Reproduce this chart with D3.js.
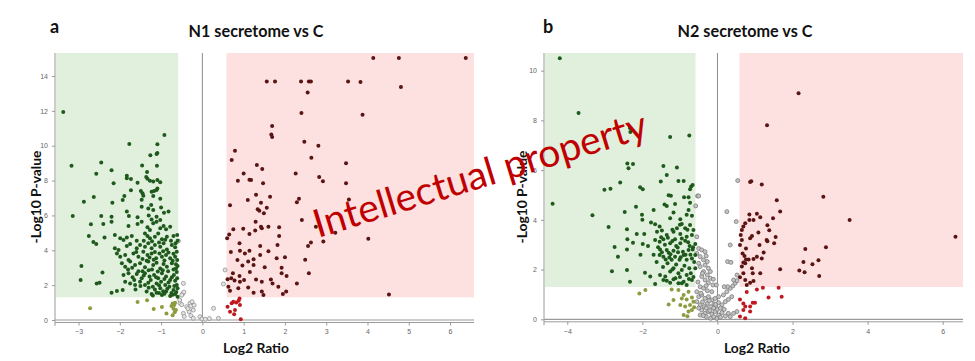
<!DOCTYPE html>
<html><head><meta charset="utf-8">
<script src="https://cdn.jsdelivr.net/npm/d3@7"></script>
<style>body{margin:0;background:#fff}svg{display:block}</style>
</head><body>
<svg id="c" width="975" height="361"></svg>
<script>
// ---------- DATA (Log2 ratio, -log10 p) ----------
const n1Green = [
[-3.37,11.93],[-0.92,10.61],[-1.77,10.10],[-1.09,10.08],[-1.26,9.45],[-1.09,9.58],[-1.11,9.52],[-3.17,8.85],[-2.45,9.03],[-1.46,8.87],[-1.10,8.85],[-2.57,8.39],[-2.20,8.59],[-1.34,8.49],[-1.83,8.28],[-1.83,8.13],[-1.73,8.09],[-1.36,8.20],[-1.33,8.11],[-1.27,7.99],[-1.19,7.94],[-1.09,8.03],[-1.02,7.90],[-1.57,7.88],[-2.15,7.84],[-1.49,7.40],[-1.45,7.27],[-1.73,7.44],[-1.23,7.36],[-1.17,7.40],[-1.11,7.46],[-1.09,7.55],[-1.43,7.13],[-1.89,7.11],[-1.93,6.88],[-1.47,6.90],[-1.19,7.11],[-1.02,6.96],[-2.63,7.06],[-2.87,6.79],[-2.18,6.73],[-1.47,6.50],[-1.24,6.60],[-1.31,6.40],[-1.19,6.31],[-1.00,6.46],[-0.93,6.16],[-0.82,6.22],[-1.83,6.23],[-1.78,5.97],[-1.57,5.89],[-1.30,6.00],[-1.23,5.77],[-1.11,5.93],[-1.02,5.74],[-3.14,5.97],[-2.45,5.97],[-2.20,5.92],
[-2.70,5.49],[-2.40,5.51],[-2.20,5.64],[-1.79,5.39],[-1.57,5.51],[-1.33,5.32],[-1.27,5.16],[-1.19,5.55],[-1.11,5.64],[-1.02,5.26],[-0.94,5.39],[-0.88,5.20],[-0.78,5.35],[-1.47,5.64],
[-2.75,4.82],[-2.64,4.47],[-2.57,4.36],[-2.37,4.74],[-2.12,4.88],[-1.99,4.69],[-1.91,4.59],[-1.83,4.74],[-1.71,4.82],[-1.59,4.55],[-1.39,4.97],[-1.33,4.82],[-1.27,4.69],[-1.15,4.78],[-1.07,4.97],[-0.98,4.63],[-0.86,4.78],[-0.70,4.82],[-0.61,4.88],[-0.60,4.55],
[-2.12,4.11],[-2.03,4.02],[-1.83,4.25],[-1.75,4.36],[-1.59,4.11],[-1.51,4.30],[-1.39,4.21],[-1.31,4.40],[-1.23,4.11],[-1.15,4.30],[-1.02,4.21],[-0.94,4.40],[-0.86,4.05],[-0.74,4.30],[-0.66,4.17],[-0.62,3.92],
[-2.07,3.82],[-1.99,3.63],[-1.87,3.73],[-1.79,3.44],[-1.67,3.82],[-1.55,3.63],[-1.43,3.92],[-1.33,3.73],[-1.23,3.82],[-1.12,3.54],[-1.04,3.82],[-0.98,3.63],[-0.88,3.73],[-0.78,3.54],[-0.66,3.63],[-0.61,3.44],
[-1.95,3.25],[-1.87,3.06],[-1.75,3.35],[-1.63,3.16],[-1.51,3.25],[-1.39,3.02],[-1.31,3.35],[-1.19,3.16],[-1.11,3.29],[-1.02,2.96],[-0.94,3.21],[-0.86,3.06],[-0.74,3.25],[-0.64,2.96],[-0.60,3.10],
[-2.93,3.10],[-2.42,2.73],[-1.91,2.58],[-1.79,2.68],[-1.69,2.45],[-1.59,2.64],[-1.47,2.39],[-1.39,2.68],[-1.28,2.49],[-1.17,2.58],[-1.07,2.39],[-0.98,2.68],[-0.88,2.49],[-0.78,2.30],[-0.69,2.58],[-0.61,2.39],
[-2.95,2.30],[-2.56,2.10],[-2.49,2.14],[-1.87,2.20],[-1.75,2.10],[-1.63,2.01],[-1.51,2.20],[-1.39,2.01],[-1.31,2.14],[-1.20,1.91],[-1.11,2.10],[-1.02,1.82],[-0.90,2.01],[-0.80,1.91],[-0.70,1.72],[-0.62,2.01],[-0.60,1.82],
[-2.20,1.57],[-2.07,1.66],[-1.93,1.72],[-1.35,1.63],[-1.23,1.49],[-1.11,1.57],[-0.98,1.43],[-0.88,1.63],[-0.78,1.38],[-0.66,1.49],[-0.60,1.34],
[-1.42,4.55],[-1.22,4.52],[-1.05,4.45],[-0.90,4.60],[-0.76,4.55],[-0.65,4.40],
[-1.45,3.50],[-1.28,3.58],[-1.15,3.90],[-0.95,3.95],[-0.82,3.88],[-0.70,3.80],
[-1.35,3.40],[-1.18,3.45],[-0.92,3.42],[-0.72,3.40],[-0.64,3.20],
[-1.45,2.80],[-1.30,2.85],[-1.22,2.90],[-1.08,2.78],[-0.96,2.85],[-0.83,2.80],[-0.70,2.90],[-0.62,2.75],
[-1.42,2.55],[-1.25,2.30],[-1.12,2.45],[-1.00,2.20],[-0.92,2.35],[-0.82,2.15],[-0.74,2.45],[-0.66,2.25],
[-1.30,1.85],[-1.15,1.75],[-1.05,2.00],[-0.95,1.65],[-0.85,1.80],[-0.75,1.55],[-0.68,1.95],[-0.63,1.60],
[-1.20,1.40],[-1.05,1.55],[-0.92,1.50],[-0.72,1.45],
[-1.60,3.90],[-1.70,3.00],[-1.65,2.30],[-1.80,2.90],[-1.55,2.80],[-1.50,1.95],[-1.62,1.75]
];
const n1Olive = [[-2.72,0.67],[-1.57,1.03],[-1.34,1.13],[-1.18,0.63],[-0.98,0.75],[-0.87,0.38],[-0.72,0.27],[-0.70,0.65],[-0.68,0.86],[-0.66,0.99],[-0.64,0.58],[-0.72,0.95],[-0.75,0.80],[-0.67,0.45]];
const n1Gray = [[-0.48,1.49],[-0.45,1.60],[-0.54,0.96],[-0.50,0.88],[-0.38,0.76],[-0.30,0.96],[-0.28,0.80],[-0.22,0.57],[-0.32,0.48],[-0.46,0.38],[-0.44,0.20],[-0.28,0.25],[-0.22,0.10],[-0.06,0.19],[-0.01,0.06],[0.07,0.04],[0.17,0.08],[0.27,0.67],[0.39,0.10],[0.51,2.07],[-0.46,2.10],[-0.58,4.53],[-0.50,1.43],[-0.25,1.05],[-0.35,0.65],[-0.20,0.85],[-0.55,1.15],[0.55,2.87]];
const n1Red = [
[4.14,15.03],[4.76,15.03],[6.38,15.03],[1.56,13.69],[1.76,13.69],[2.39,13.69],[2.58,13.69],[2.63,13.69],[3.53,13.69],[3.83,13.65],[4.81,13.37],[2.55,13.06],[2.40,11.88],[3.88,11.78],[1.69,11.13],[1.67,10.65],[1.69,10.50],[2.47,10.23],[2.81,10.00],[2.64,9.31],[0.79,9.71],[0.71,9.18],[1.32,8.89],[1.45,8.66],[1.00,8.41],[2.26,8.41],[3.48,8.99],[0.86,7.99],[1.14,8.05],[1.18,8.03],[1.47,7.84],[2.83,8.20],[2.92,7.96],[3.48,7.84],[1.30,7.19],[1.42,6.73],[1.10,6.88],[1.64,7.07],[2.34,6.96],[2.29,6.75],[3.55,6.92],[0.67,6.58],[1.56,6.44],[1.34,6.35],[1.38,6.27],[1.49,6.12],[2.41,5.74],[1.29,5.64],[1.42,5.35],[1.60,5.35],[1.86,5.32],[2.75,5.35],[0.75,5.20],[0.99,5.24],[0.60,4.69],[0.65,4.90],[0.90,4.40],[1.14,4.93],[1.28,5.13],[1.44,5.26],[1.86,4.82],[2.93,4.51],[3.22,5.01],[4.02,4.66],[2.63,4.44],[2.56,4.25],[0.69,3.90],[0.91,3.98],[1.03,3.82],[1.14,3.98],[1.40,4.25],[1.60,3.94],[1.82,4.30],[2.49,3.46],[0.85,3.44],[0.97,3.12],[1.11,3.35],[1.24,3.48],[1.24,3.15],[1.40,3.73],[1.51,3.02],[1.80,3.54],[2.00,3.60],[1.92,3.00],[0.74,2.68],[0.61,2.34],[0.70,2.39],[0.78,2.26],[0.90,2.52],[0.91,2.20],[1.01,2.29],[1.15,2.75],[1.30,2.33],[1.44,2.20],[1.66,2.33],[1.70,2.10],[1.92,2.68],[2.04,2.52],[2.58,2.68],[2.29,2.10],[0.63,1.91],[0.67,1.68],[0.87,1.82],[1.11,1.87],[1.24,1.57],[1.44,1.63],[1.48,1.43],[1.84,1.91],[1.95,1.49],[2.03,1.63],[4.52,1.47]
];
const n1BrightRed = [[0.90,1.24],[0.82,1.00],[0.71,0.96],[0.61,0.76],[0.67,0.48],[0.91,0.86],[0.79,0.57],[0.77,0.33],[0.93,0.04],[0.88,1.10],[0.75,1.05]];

const n2Green = [
[-4.20,10.50],[-3.70,8.30],[-4.39,4.65],[-3.33,4.18],[-3.01,5.21],[-2.85,5.25],[-2.90,3.71],[-2.74,2.91],[-2.65,2.52],[-2.81,1.93],[-2.59,5.50],[-2.32,7.53],[-2.33,7.69],[-1.26,7.33],[-0.75,7.39],
[-2.40,6.27],[-2.25,6.25],[-2.37,6.07],[-1.44,6.17],[-1.08,6.11],[-1.35,5.80],[-0.90,5.56],[-1.04,5.56],[-1.51,5.54],[-0.66,5.40],[-0.73,5.23],[-0.70,5.34],[-2.06,5.31],[-1.99,5.23],[-1.30,4.99],[-1.24,4.97],[-0.89,4.91],[-0.77,4.91],[-1.41,4.62],[-1.35,4.56],[-1.13,4.64],[-0.73,4.69],[-2.17,4.53],[-1.70,4.40],[-1.17,4.30],[-0.77,4.40],[-2.47,4.32],[-2.01,4.20],[-1.77,3.89],[-1.66,3.82],[-1.54,3.73],[-1.26,4.06],[-0.99,4.02],[-0.82,4.20],[-0.95,3.83],[-0.68,4.16],[-1.08,3.66],[-0.86,3.66],[-0.73,3.79],[-0.64,3.59],[-2.41,3.62],[-2.15,3.43],[-1.95,3.43],[-1.61,3.52],[-1.48,3.57],[-1.35,3.39],[-1.17,3.52],[-0.99,3.43],[-0.82,3.32],[-0.68,3.39],
[-2.25,3.08],[-1.99,3.03],[-1.66,3.19],[-1.54,3.12],[-1.44,3.22],[-1.26,3.06],[-1.13,3.22],[-0.99,3.06],[-0.86,3.16],[-0.74,2.95],[-0.59,3.03],
[-2.41,2.81],[-1.53,2.81],[-1.35,2.79],[-1.30,2.68],[-1.17,2.76],[-1.06,2.89],[-0.92,2.72],[-0.77,2.79],[-0.66,2.81],
[-1.54,2.59],[-1.44,2.52],[-1.28,2.49],[-1.22,2.39],[-1.13,2.52],[-1.01,2.39],[-0.90,2.59],[-0.82,2.39],[-0.68,2.45],[-0.59,2.59],
[-2.41,1.98],[-1.79,1.72],[-1.53,1.78],[-1.39,1.72],[-1.26,1.92],[-1.17,2.05],[-1.04,1.85],[-0.95,1.98],[-0.82,1.78],[-0.71,1.85],[-0.59,2.05],
[-2.33,1.51],[-1.66,1.42],[-1.44,1.58],[-1.26,1.47],[-1.17,1.61],[-1.04,1.45],[-0.90,1.51],[-0.82,1.38],[-0.68,1.58],
[-2.40,3.22],[-2.00,4.00],[-1.93,1.87],
[-1.50,3.30],[-1.40,3.00],[-1.32,3.28],[-1.20,3.15],[-1.10,2.95],[-0.95,3.25],[-0.78,3.10],[-0.65,2.90],[-1.48,2.70],[-1.38,2.40],[-1.25,2.62],[-1.05,2.70],[-0.98,2.50],[-0.85,2.60],[-0.72,2.60],[-0.62,2.30],[-1.45,2.10],[-1.33,2.25],[-1.20,2.00],[-1.10,2.20],[-1.00,1.70],[-0.88,2.15],[-0.75,2.05],[-0.64,1.70],[-1.35,1.55],[-1.12,1.65],[-0.95,1.45],[-0.76,1.62],[-1.62,2.30],[-1.58,2.90],[-1.70,2.60],[-1.85,2.95],[-2.05,2.60],[-1.20,3.60],[-1.00,3.80],[-0.80,3.60]
];
const n2Olive = [[-2.08,1.04],[-1.92,1.18],[-1.22,1.20],[-1.04,1.18],[-0.90,0.98],[-0.77,1.11],[-1.17,0.78],[-1.30,0.60],[-0.95,0.84],[-0.82,0.80],[-0.68,0.88],[-0.99,0.58],[-0.86,0.51],[-0.73,0.58],[-0.64,0.71],[-0.90,0.17],[-0.77,0.31],[-0.68,0.37],[-0.62,0.48],[-0.80,0.12]];
const n2Gray = [
[-0.53,4.96],[-0.50,4.96],[-0.58,4.56],[-0.55,3.32],[-0.50,2.85],[-0.42,2.79],[-0.33,2.72],[-0.46,2.52],[-0.37,2.39],[-0.27,2.32],[-0.33,2.18],[-0.46,2.12],[-0.24,2.05],[-0.19,1.92],[-0.37,1.92],[-0.27,1.78],[-0.19,1.65],[-0.11,1.61],[-0.42,1.72],[-0.33,1.58],[-0.24,1.47],[-0.12,1.38],[-0.03,1.38],[-0.46,1.31],[-0.37,1.25],[-0.27,1.15],[-0.15,1.11],[-0.55,1.11],[-0.50,0.91],[-0.42,0.98],[-0.33,0.84],[-0.24,0.91],[-0.15,0.78],[-0.06,0.84],[0.03,0.91],[0.16,0.98],[0.25,1.11],[0.34,1.25],[0.41,1.34],[0.47,1.45],[0.52,1.55],[0.27,1.31],[-0.55,0.71],[-0.46,0.58],[-0.35,0.51],[-0.27,0.64],[-0.18,0.51],[-0.09,0.62],[0.03,0.67],[0.12,0.58],[0.21,0.71],[0.29,0.80],[0.38,0.91],[-0.42,0.37],[-0.33,0.24],[-0.24,0.31],[-0.15,0.21],[-0.06,0.31],[0.03,0.17],[0.12,0.27],[0.21,0.13],[0.29,0.24],[-0.46,0.17],[-0.30,0.11],[-0.18,0.04],[-0.02,0.04],[0.34,0.11],[0.43,0.24],[0.52,0.31],[0.25,4.33],[0.50,3.93],[0.34,2.99],[0.27,2.32],[0.18,1.31],[0.54,5.58],[0.36,2.29],[0.43,1.58],[0.52,1.78],
[-0.40,0.70],[-0.30,0.45],[-0.20,0.35],[-0.10,0.45],[0.00,0.40],[0.08,0.45],[-0.50,0.45],[-0.38,0.15],[-0.10,0.10],[0.08,0.08],[0.18,0.40],[-0.22,0.75],[-0.05,0.60],[-0.44,1.05],[-0.30,1.35],[-0.52,1.50],[-0.40,1.85],[-0.50,2.25],[-0.30,2.55],[-0.55,2.65]
];
const n2Red = [[2.16,9.09],[1.32,7.80],[0.87,5.52],[0.90,5.55],[1.18,5.42],[2.82,4.93],[1.58,4.79],[1.67,4.34],[3.52,3.99],[6.34,3.32],[2.34,2.83],[2.89,2.90],[2.29,2.30],[2.69,2.37],[2.53,2.21],[2.18,1.96],[2.32,1.89],[2.71,1.74],[1.67,2.01],[1.48,4.06],[1.33,3.78],[1.38,3.58],[1.55,3.31],[1.51,3.06],[1.33,3.14],[1.23,2.69],[1.18,2.45],[1.12,2.99],[0.96,2.43],[0.83,2.41],[0.76,2.41],[0.69,2.28],[0.65,2.12],[0.92,2.05],[0.94,1.85],[1.14,1.85],[0.69,1.85],[0.74,1.58],[0.78,1.38],[0.96,1.54],[0.69,3.73],[0.74,3.86],[0.85,3.99],[0.96,3.99],[1.05,4.24],[1.14,4.10],[0.85,4.21],[0.62,3.39],[0.65,3.19],[0.76,2.85],[0.60,2.99],[0.87,3.26],[0.67,2.65],[0.72,2.55],[0.60,1.69],[0.65,3.59],[0.92,3.35],[1.09,3.49],[1.31,3.19],[0.74,2.25],[0.87,1.47],[1.05,2.52]];
const n2BrightRed = [[1.05,1.20],[1.21,1.27],[1.63,1.27],[1.71,0.91],[1.36,0.88],[0.60,0.80],[0.69,0.64],[0.74,0.51],[0.87,0.51],[0.94,0.67],[0.69,0.37],[0.87,0.31],[0.60,0.11],[0.74,0.04],[0.78,1.10],[1.00,0.67]];

const n1XTicks = [-3,-2,-1,0,1,2,3,4,5,6];
const n1YTicks = [0,2,4,6,8,10,12,14];
const n2XTicks = [-4,-2,0,2,4,6];
const n2YTicks = [0,2,4,6,8,10];
const titles = ["N1 secretome vs C", "N2 secretome vs C"];
const letters = ["a", "b"];
const xLabel = "Log2 Ratio";
const yLabel = "-Log10 P-value";
const watermark = "Intellectual property";
const fcCut = 0.585, pCut = 1.301;

// ---------- DRAW ----------
const svg = d3.select("#c");
const colors = {green:"#1d5a1b", red:"#5a1414", bright:"#c0181e", olive:"#8c9c3e"};

function fitText(sel, target) {
  const fs = parseFloat(sel.attr("font-size"));
  const w = sel.node().getComputedTextLength();
  sel.attr("font-size", (fs * target / w).toFixed(2));
}

function panel(cfg) {
  const g = svg.append("g");
  const x = d3.scaleLinear().domain(cfg.xd).range(cfg.xr);
  const y = d3.scaleLinear().domain(cfg.yd).range(cfg.yr);
  const [x0, x1] = cfg.xd, [y0, y1] = cfg.yd;
  g.append("rect").attr("x", x(x0) + 1).attr("y", y(y1))
    .attr("width", x(-fcCut) - x(x0) - 1).attr("height", y(pCut) - y(y1)).attr("fill", "#e1efdd");
  g.append("rect").attr("x", x(fcCut)).attr("y", y(y1))
    .attr("width", x(x1) - x(fcCut)).attr("height", y(pCut) - y(y1)).attr("fill", "#fde0e0");
  g.append("line").attr("x1", x(0)).attr("x2", x(0)).attr("y1", y(y1)).attr("y2", y(0) + 2)
    .attr("stroke", "#8c8c8c").attr("stroke-width", 1);
  g.append("line").attr("x1", x(x0)).attr("x2", x(x1)).attr("y1", y(0)).attr("y2", y(0))
    .attr("stroke", "#9a9a9a").attr("stroke-width", 1.2);
  const ax = g.append("g").attr("transform", `translate(0,${y(0) + 2.5})`);
  ax.call(d3.axisBottom(x).tickValues(d3.range(Math.ceil(x0 / cfg.xm) * cfg.xm, x1, cfg.xm)).tickSize(2).tickFormat(""));
  ax.call(d3.axisBottom(x).tickValues(cfg.xt).tickSize(3).tickPadding(4));
  const ay = g.append("g").attr("transform", `translate(${x(x0)},0)`);
  ay.call(d3.axisLeft(y).tickValues(d3.range(0, y1, cfg.ym)).tickSize(2).tickFormat(""));
  ay.call(d3.axisLeft(y).tickValues(cfg.yt).tickSize(3).tickPadding(4));
  [ax, ay].forEach(a => {
    a.selectAll("path").attr("stroke", "#9a9a9a");
    a.selectAll("line").attr("stroke", "#9a9a9a");
    a.selectAll("text").attr("fill", "#666").attr("font-size", 7).attr("font-family", "Liberation Sans, Arial, sans-serif");
  });
  ax.select("path.domain").attr("d", `M${x(x0)},0H${x(x1)}`);
  ay.select("path.domain").attr("d", `M0,${y(y1)}V${y(0) + 6}`);
  const dots = (data, fill, stroke, r) => g.append("g").selectAll("circle").data(data).join("circle")
    .attr("cx", d => x(d[0])).attr("cy", d => y(d[1])).attr("r", r)
    .attr("fill", fill).attr("stroke", stroke).attr("stroke-width", stroke === "none" ? 0 : 0.8);
  dots(cfg.gray, cfg.grayFill, cfg.grayStroke, 2);
  dots(cfg.olive, colors.olive, "none", 2);
  dots(cfg.bright, colors.bright, "none", 2);
  dots(cfg.green, colors.green, "none", 2);
  dots(cfg.red, colors.red, "none", 2);
  const tt = g.append("text").attr("x", cfg.tx).attr("y", 37).attr("text-anchor", "middle")
    .attr("font-family", "Lato, 'Open Sans', sans-serif").attr("font-weight", "bold").attr("font-size", 15)
    .attr("fill", "#111").text(cfg.title);
  fitText(tt, 135);
  g.append("text").attr("x", cfg.lx).attr("y", 33)
    .attr("font-family", "Lato, 'Open Sans', sans-serif").attr("font-weight", "bold").attr("font-size", 18)
    .attr("fill", "#111").text(cfg.letter);
  const xl = g.append("text").attr("x", cfg.xlx).attr("y", 353).attr("text-anchor", "middle")
    .attr("font-family", "Lato, 'Open Sans', sans-serif").attr("font-weight", "bold").attr("font-size", 14)
    .attr("fill", "#111").text(xLabel);
  fitText(xl, 66);
  const yl = g.append("text").attr("transform", `translate(${cfg.ylx},197) rotate(-90)`).attr("text-anchor", "middle")
    .attr("font-family", "Lato, 'Open Sans', sans-serif").attr("font-weight", "bold").attr("font-size", 13)
    .attr("fill", "#111").text(yLabel);
  fitText(yl, 93);
}

panel({xd:[-3.57, 6.58], xr:[55, 474], yd:[0, 15.32], yr:[320, 53], xt:n1XTicks, yt:n1YTicks, xm:0.2, ym:0.5,
  green:n1Green, red:n1Red, olive:n1Olive, bright:n1BrightRed, gray:n1Gray, grayFill:"#e6e6e6", grayStroke:"#909090",
  title:titles[0], letter:letters[0], tx:256, lx:50, xlx:256, ylx:41});
panel({xd:[-4.62, 6.54], xr:[544, 963], yd:[0, 10.71], yr:[319.3, 53], xt:n2XTicks, yt:n2YTicks, xm:0.4, ym:0.5,
  green:n2Green, red:n2Red, olive:n2Olive, bright:n2BrightRed, gray:n2Gray, grayFill:"#c4c4c4", grayStroke:"#7a7a7a",
  title:titles[1], letter:letters[1], tx:745, lx:543, xlx:757, ylx:527});

const wm = svg.append("text").attr("transform", "translate(318,238) rotate(-17)")
  .attr("font-family", "Lato, 'Open Sans', sans-serif").attr("font-size", 34).attr("fill", "#c00000")
  .text(watermark);
fitText(wm, 347);
</script>
</body></html>
